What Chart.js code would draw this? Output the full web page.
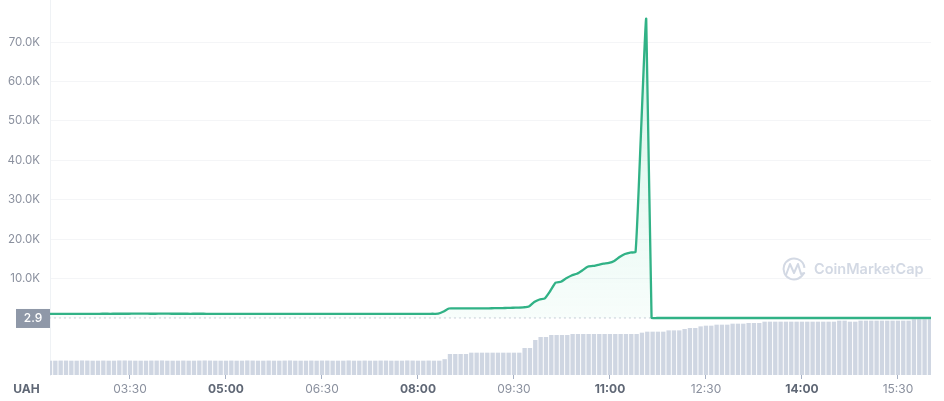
<!DOCTYPE html>
<html>
<head>
<meta charset="utf-8">
<title>UAH price</title>
<script src="https://cdn.jsdelivr.net/npm/chart.js@4"></script>
<style>
  html, body { margin: 0; padding: 0; background: #fff; }
  canvas { display: block; }
</style>
</head>
<body>
<canvas id="myChart" width="944" height="401"></canvas>
<script>
const VOLUME_START = 135;
const PRICE_START = 134;
const STEP_MINUTES = 5;
const BASE_PRICE = 2.9;

const tickMinutes = [210, 300, 390, 480, 570, 660, 750, 840, 930];
const tickLabels = ["03:30", "05:00", "06:30", "08:00", "09:30", "11:00", "12:30", "14:00", "15:30"];
const boldLabels = ["05:00", "08:00", "11:00", "14:00"];
const priceTicks = [10000, 20000, 30000, 40000, 50000, 60000, 70000];

const price = [
  1040, 1040, 1050, 1050, 1050, 1060, 1060, 1060, 1060, 1060,
  1070, 1070, 1070, 1080, 1080, 1080, 1090, 1090, 1090, 1080,
  1080, 1090, 1090, 1080, 1080, 1080, 1070, 1070, 1070, 1070,
  1060, 1060, 1060, 1060, 1050, 1050, 1050, 1050, 1060, 1060,
  1060, 1060, 1060, 1060, 1050, 1050, 1050, 1050, 1050, 1050,
  1060, 1060, 1060, 1060, 1060, 1060, 1060, 1050, 1050, 1050,
  1050, 1050, 1050, 1060, 1060, 1060, 1060, 1060, 1060, 1060,
  1060, 1060, 1070, 1090, 1650, 2410, 2420, 2430, 2430, 2440,
  2440, 2450, 2450, 2470, 2500, 2520, 2550, 2600, 2650, 2720,
  2900, 4060, 4700, 5000, 6850, 8960, 9210, 10080, 10790, 11220,
  12060, 13020, 13200, 13500, 13800, 13960, 14470, 15480, 16240, 16620,
  16750, 46400, 75900, 60, 3, 3, 3, 3, 3, 3,
  3, 3, 3, 3, 3, 3, 3, 3, 3, 3,
  3, 3, 3, 3, 3, 3, 3, 3, 3, 3,
  3, 3, 3, 3, 3, 3, 3, 3, 3, 3,
  3, 3, 3, 3, 3, 3, 3, 3, 3, 3,
  3, 3, 3, 3, 3, 3, 3
];

const volume = [
  14, 14, 14.1, 14.1, 14, 14, 14.2, 14.1, 14, 14,
  14.1, 14, 14, 14.2, 14.2, 14.1, 14, 14, 14, 14.1,
  14.1, 14.2, 14, 14, 14, 14.1, 14, 14, 14.1, 14.2,
  14.1, 14, 14, 14, 14.1, 14, 14, 14.2, 14.1, 14,
  14, 14.1, 14, 14, 14.1, 14.2, 14, 14, 14, 14.1,
  14, 14.1, 14.1, 14, 14, 14, 14.2, 14, 14, 14.1,
  14, 14, 14.1, 14.1, 14, 14, 14, 14.2, 14.1, 14,
  14, 14.1, 14, 14, 15.5, 20.7, 20.7, 20.7, 20.7, 22,
  22, 22, 22, 22, 22, 22, 22, 22, 22, 26.7,
  26.7, 34.7, 37.7, 37.7, 39.7, 39.7, 39.7, 39.7, 40.7, 40.7,
  40.7, 40.7, 40.7, 40.7, 40.7, 40.7, 40.7, 40.7, 40.7, 40.7,
  40.7, 42, 43, 43, 43, 43, 44.3, 44.3, 44.3, 45.7,
  46.7, 46.7, 48.3, 49, 49, 50, 50, 50, 51, 51,
  51, 51.7, 51.7, 51.7, 53, 53, 53, 53, 53, 53,
  53, 53, 53, 53, 53, 53, 53, 53, 54, 54,
  53, 53, 54, 54, 54, 54, 54, 54, 54, 54,
  54, 54, 55.3, 55.3, 55.3, 55.3
];

const toPoints = (values, start) =>
  values.map((v, i) => ({ x: start + i * STEP_MINUTES, y: v }));

const GRAY = "#8a909e";
const DARK = "#5f6775";
const LOGO = "#d3d9e4";
const FONT = "Inter, sans-serif";

const isBold = (c) => !!c.tick && boldLabels.includes(c.tick.label);

function fillGradient(context) {
  const area = context.chart.chartArea;
  if (!area) return "rgba(22,199,132,0.1)";
  const g = context.chart.ctx.createLinearGradient(0, 19, 0, 318);
  g.addColorStop(0, "rgba(22,199,132,0.18)");
  g.addColorStop(1, "rgba(22,199,132,0.03)");
  return g;
}

// labels otherwise push the plot area in, which throws off the fixed layout
function clearPadding(axis) {
  axis.paddingTop = 0;
  axis.paddingBottom = 0;
  axis.paddingLeft = 0;
  axis.paddingRight = 0;
}

// the price tag, currency name and watermark are not part of any scale
const extras = {
  id: "extras",
  afterDraw(chart) {
    const ctx = chart.ctx;
    const y = chart.scales.y.getPixelForValue(BASE_PRICE);
    ctx.save();
    ctx.fillStyle = "#8f98a8";
    ctx.fillRect(16, y - 9, 34, 19);
    ctx.fillStyle = "#fff";
    ctx.font = "500 12px " + FONT;
    ctx.textAlign = "center";
    ctx.textBaseline = "middle";
    ctx.fillText("2.9", 33, y + 0.5);

    ctx.fillStyle = DARK;
    ctx.font = "700 12px " + FONT;
    ctx.fillText("UAH", 26.5, 389);

    ctx.strokeStyle = LOGO;
    ctx.lineWidth = 2;
    ctx.beginPath();
    ctx.arc(794, 269, 10.5, 0.35, Math.PI * 2 - 0.1);
    ctx.stroke();
    ctx.lineJoin = "round";
    ctx.beginPath();
    ctx.moveTo(786, 275);
    ctx.lineTo(790, 264);
    ctx.lineTo(794, 273);
    ctx.lineTo(798, 264);
    ctx.lineTo(801, 274);
    ctx.lineTo(805, 273);
    ctx.stroke();

    ctx.fillStyle = LOGO;
    ctx.font = "600 14.5px " + FONT;
    ctx.textAlign = "left";
    ctx.fillText("CoinMarketCap", 814, 270);
    ctx.restore();
  },
};

new Chart(document.getElementById("myChart"), {
  data: {
    datasets: [
      {
        type: "line",
        label: "Price",
        data: toPoints(price, PRICE_START),
        yAxisID: "y",
        borderColor: "#31b286",
        borderWidth: 2.3,
        pointRadius: 0,
        tension: 0.15,
        fill: { value: BASE_PRICE },
        backgroundColor: fillGradient,
        order: 1,
      },
      {
        type: "line",
        label: "Open",
        data: toPoints(price.map(() => BASE_PRICE), PRICE_START),
        yAxisID: "y",
        borderColor: "#c6ccd6",
        borderWidth: 1,
        borderDash: [2, 3],
        pointRadius: 0,
        fill: false,
        order: 2,
      },
      {
        type: "bar",
        label: "Volume",
        data: toPoints(volume, VOLUME_START),
        yAxisID: "volume",
        backgroundColor: "#cfd6e2",
        barThickness: 3.7,
        order: 3,
      },
    ],
  },
  options: {
    responsive: false,
    animation: false,
    layout: { padding: { top: 0, right: 13, bottom: 0, left: 0 } },
    plugins: {
      legend: { display: false },
      title: { display: false },
      tooltip: { enabled: false },
    },
    scales: {
      x: {
        type: "linear",
        offset: false,
        min: VOLUME_START,
        max: 961,
        afterBuildTicks: (axis) => {
          axis.ticks = tickMinutes.map((v) => ({ value: v }));
        },
        afterFit: (axis) => {
          axis.height = 26;
          clearPadding(axis);
        },
        border: { display: false },
        grid: { offset: false, drawOnChartArea: false, drawTicks: true, tickLength: 4, color: "#a6b0c3" },
        ticks: {
          autoSkip: false,
          maxRotation: 0,
          padding: 3,
          callback: (v) => tickLabels[tickMinutes.indexOf(v)],
          color: (c) => (isBold(c) ? DARK : GRAY),
          font: (c) => ({
            family: FONT,
            size: 12,
            weight: isBold(c) ? "700" : "400",
          }),
        },
      },
      y: {
        position: "left",
        min: -14470,
        max: 80710,
        afterBuildTicks: (axis) => {
          axis.ticks = priceTicks.map((v) => ({ value: v }));
        },
        afterFit: (axis) => {
          axis.width = 50;
          clearPadding(axis);
        },
        border: { display: true, color: "#eff2f5" },
        grid: { color: "#f4f5f7", drawTicks: false },
        ticks: {
          padding: 10,
          color: GRAY,
          font: { family: FONT, size: 11.5 },
          callback: (v) => (v / 1000).toFixed(1) + "K",
        },
      },
      volume: {
        display: false,
        min: 0,
        max: 375,
      },
    },
  },
  plugins: [extras],
});
</script>
</body>
</html>
